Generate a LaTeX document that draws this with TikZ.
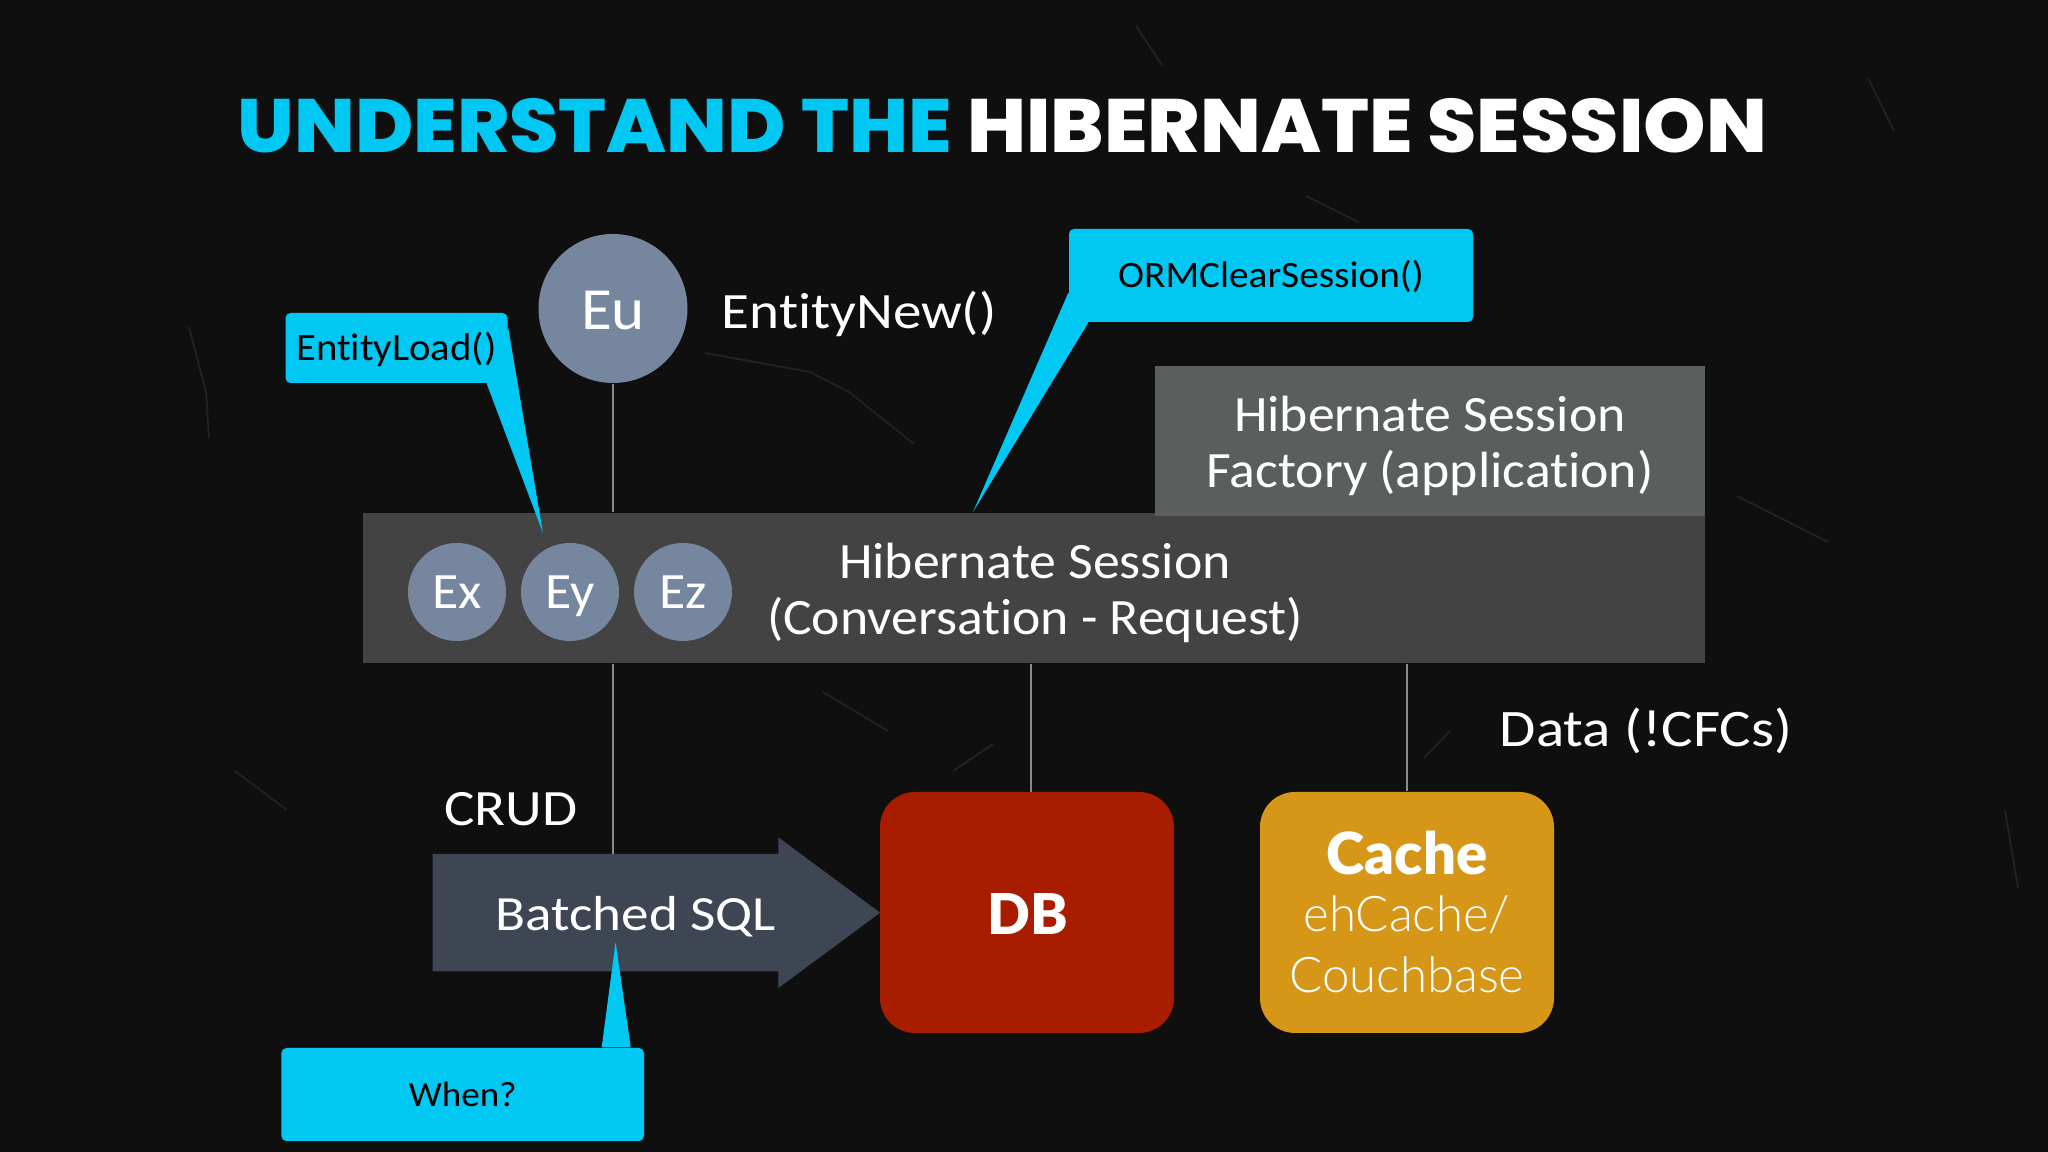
\documentclass[tikz,border=0pt]{standalone}
\usepackage{fontspec}
\usetikzlibrary{shapes.arrows}
\setmainfont[Ligatures=NoCommon,FakeStretch=1.055]{Carlito}
\newfontfamily\widefont[Ligatures=NoCommon,FakeStretch=1.12]{Carlito}
\newfontfamily\titlefont[FakeStretch=1.052]{Poppins ExtraBold}
\newfontfamily\blackfont{Lato Black}
\newfontfamily\lightfont{Lato Light}
\definecolor{pagebg}{HTML}{0F0F0F}
\definecolor{skyblue}{HTML}{00C8F2}
\definecolor{circlegray}{HTML}{76869F}
\definecolor{barsession}{HTML}{434343}
\definecolor{barfactory}{HTML}{5A5E5D}
\definecolor{arrowslate}{HTML}{3F4653}
\definecolor{dbred}{HTML}{A81C00}
\definecolor{cacheamber}{HTML}{D69618}
\definecolor{linkgray}{HTML}{8A8A8A}
\definecolor{scratchgray}{HTML}{232323}
\tikzset{
  label/.style={text=white,font=\fontsize{14.5}{15.7}\selectfont,align=center,inner sep=0},
  widelabel/.style={label,font=\widefont\fontsize{#1}{15.5}\selectfont},
  entity/.style={circle,fill=circlegray,text=white,inner sep=0,text height=0.33cm,text depth=0cm,font=\fontsize{14.5}{15.5}\selectfont},
  bar/.style={fill=#1,inner sep=0},
  store/.style={fill=#1,rounded corners=0.35cm,minimum width=2.94cm,minimum height=2.41cm,inner sep=0},
  callout/.style={fill=skyblue,rounded corners=0.05cm,text=black,inner sep=0,text height=0.25cm,text depth=0cm,font=\fontsize{#1}{12}\selectfont},
  tail/.style={fill=skyblue},
  link/.style={draw=linkgray,line width=0.5pt},
  scratch/.style={draw=scratchgray,line width=0.5pt},
}
\begin{document}
\begin{tikzpicture}
\useasboundingbox (0,0) rectangle (20.48,11.52);
\fill[pagebg] (0,0) rectangle (20.48,11.52);

% background scratches
\draw[scratch] (1.89,8.25) -- (2.06,7.60) -- (2.09,7.14);
\draw[scratch] (7.05,7.99) -- (8.10,7.80) -- (8.49,7.60) -- (9.14,7.08);
\draw[scratch] (17.37,6.56) -- (18.28,6.10);
\draw[scratch] (8.23,4.60) -- (8.88,4.21);
\draw[scratch] (9.53,3.81) -- (9.93,4.08);
\draw[scratch] (2.35,3.81) -- (2.87,3.42);
\draw[scratch] (18.68,10.74) -- (18.94,10.21);
\draw[scratch] (20.05,3.42) -- (20.18,2.64);
\draw[scratch] (13.06,9.56) -- (13.58,9.30);
\draw[scratch] (11.36,11.26) -- (11.62,10.87);
\draw[scratch] (14.24,3.94) -- (14.50,4.21);

\node[anchor=base west,inner sep=0,text=white,font=\titlefont\fontsize{21.5}{24}\selectfont] (title) at (2.37,9.99) {\textcolor{skyblue}{UNDERSTAND THE} HIBERNATE SESSION};

% session and factory bars
\node[bar=barsession,minimum width=13.42cm,minimum height=1.50cm] (session) at (10.34,5.64) {};
\node[bar=barfactory,minimum width=5.50cm,minimum height=1.50cm] (factory) at (14.30,7.11) {};
\node[label] (factorytext) at (14.30,7.06) {Hibernate Session\\Factory (application)};
\node[label] (sessiontext) at (10.35,5.59) {Hibernate Session\\(Conversation - Request)};

\node[entity,minimum size=1.49cm,text height=0.42cm,font=\fontsize{17}{20}\selectfont] (eu) at (6.13,8.435) {Eu};
\node[entity,minimum size=0.98cm] (ex) at (4.57,5.60) {Ex};
\node[entity,minimum size=0.98cm] (ey) at (5.70,5.60) {Ey};
\node[entity,minimum size=0.98cm] (ez) at (6.83,5.60) {Ez};
\node[widelabel=14.5,anchor=west] (entitynew) at (7.21,8.38) {EntityNew()};

% stores
\node[store=dbred] (db) at (10.27,2.395) {};
\node[text=white,font=\blackfont\fontsize{16}{17}\selectfont,inner sep=0] (dbtext) at (10.28,2.38) {DB};
\node[store=cacheamber] (cache) at (14.07,2.395) {};
\node[text=white,align=center,inner sep=0,font=\lightfont\fontsize{14}{17.4}\selectfont] (cachetext) at (14.07,2.40) {{\blackfont\fontsize{16.5}{17.4}\selectfont Cache}\\[-0.04cm]ehCache/\\Couchbase};

% batched sql arrow
\node[single arrow,fill=arrowslate,inner xsep=0,inner ysep=0.58cm,minimum width=1.49cm,minimum height=4.474cm,
  single arrow head extend=0.165cm,single arrow tip angle=73,anchor=tail] (batch) at (4.32,2.393) {};
\node[widelabel=14] (batchtext) at (6.36,2.35) {Batched SQL};
\node[widelabel=14.5] (crud) at (5.11,3.43) {CRUD};
\node[widelabel=15,anchor=west] (data) at (14.99,4.21) {Data (!CFCs)};

% connectors
\coordinate (batchtop) at (6.13,2.98);
\coordinate (dbtop) at (10.31,3.60);
\draw[link] (eu.south) -- (eu |- session.north);
\draw[link] (eu |- session.south) -- (batchtop);
\draw[link] (dbtop |- session.south) -- (dbtop);
\draw[link] (cache |- session.south) -- (cache.north);

% callouts
\node[callout=11,minimum width=2.22cm,minimum height=0.70cm] (load) at (3.965,8.04) {EntityLoad()};
\node[callout=10.6,minimum width=4.04cm,minimum height=0.93cm] (clear) at (12.71,8.765) {ORMClearSession()};
\node[callout=10,minimum width=3.626cm,minimum height=0.93cm] (when) at (4.627,0.575) {When?};
\coordinate (loadtip) at (5.43,6.19);
\coordinate (cleartip) at (9.73,6.40);
\coordinate (whentip) at (6.156,2.10);
\fill[tail] ([xshift=-0.215cm]load.south east) -- (loadtip) -- ([yshift=0.56cm]load.south east) -- cycle;
\fill[tail] ([xshift=0.20cm]clear.south west) -- (cleartip) -- ([yshift=0.30cm]clear.south west) -- cycle;
\fill[tail] ([xshift=-0.43cm]when.north east) -- (whentip) -- ([xshift=-0.14cm]when.north east) -- cycle;
\end{tikzpicture}
\end{document}
